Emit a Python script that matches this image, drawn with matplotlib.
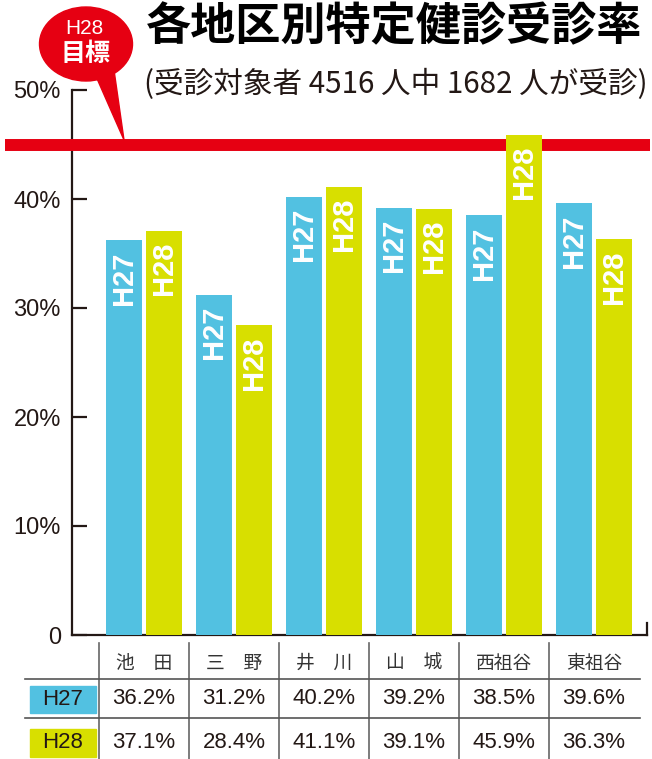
import numpy as np
import matplotlib
matplotlib.use("Agg")
import matplotlib.pyplot as plt
import matplotlib.transforms as mtransforms
from matplotlib.patches import Ellipse, Polygon, Rectangle
from matplotlib.lines import Line2D

# data
areas = ["池　田", "三　野", "井　川", "山　城", "西祖谷", "東祖谷"]
h27 = [36.2, 31.2, 40.2, 39.2, 38.5, 39.6]
h28 = [37.1, 28.4, 41.1, 39.1, 45.9, 36.3]
target = 45
yticks = [0, 10, 20, 30, 40, 50]
ytick_labels = ["0", "10%", "20%", "30%", "40%", "50%"]

title = "各地区別特定健診受診率"
subtitle = "(受診対象者 4516 人中 1682 人が受診)"

C27 = "#52C1E1"
C28 = "#D8DF00"
RED = "#E60012"
INK = "#231815"
JP = ["Noto Sans CJK JP", "DejaVu Sans"]

plt.rcParams["font.family"] = ["Liberation Sans", "Noto Sans CJK JP", "DejaVu Sans"]

W, H = 652, 759
fig = plt.figure(figsize=(W / 100, H / 100), dpi=100)


def fx(px):
    return px / W


def fy(py):
    return 1 - py / H


ax = fig.add_axes([fx(72), fy(635), (647 - 72) / W, (635 - 90) / H])

x = np.arange(len(areas))
off = 20 / 90
bw = 36 / 90
ax.bar(x - off, h27, bw, color=C27, zorder=4)
ax.bar(x + off, h28, bw, color=C28, zorder=4)
for xi, a, b in zip(x, h27, h28):
    for xx, v, lab in [(xi - off, a, "H27"), (xi + off, b, "H28")]:
        ax.annotate(lab, (xx, v), xytext=(0, -8), textcoords="offset points",
                    rotation=90, ha="center", va="top", color="white",
                    fontsize=21, fontweight="bold", zorder=5)

xmax = (647 - 144) / 90
ax.set_xlim(-0.8, xmax)
ax.set_ylim(0, 50)
for s in ["top", "right"]:
    ax.spines[s].set_visible(False)
for s in ["left", "bottom"]:
    ax.spines[s].set_linewidth(1.6)
    ax.spines[s].set_color(INK)
ax.set_xticks([])
ax.set_yticks(yticks)
ax.set_yticklabels(ytick_labels)
ax.tick_params(axis="y", direction="in", length=11, width=1.6, pad=8,
               labelsize=17, colors=INK)
ax.plot([xmax, xmax], [0, 1.1], color=INK, lw=1.6, clip_on=False)

# target line
ax.plot([-0.1165, 1.005], [target, target], transform=ax.get_yaxis_transform(),
        color=RED, lw=8.6, solid_capstyle="butt", clip_on=False, zorder=3)

# speech bubble
fig.add_artist(Ellipse((fx(86), fy(44)), 93 / W, 74 / H,
                       transform=fig.transFigure, color=RED))
fig.add_artist(Polygon([(fx(95), fy(74)), (fx(114), fy(70)), (fx(124), fy(140))],
                       closed=True, transform=fig.transFigure, color=RED))
fig.text(fx(84), fy(28), "H28", color="white", fontsize=15, ha="center", va="center")
fig.text(fx(86), fy(54), "目標", color="white", fontsize=18, fontweight="bold",
         family=JP, ha="center", va="center")

# titles
fig.text(fx(394), fy(27), title, fontsize=32.5, fontweight="bold", family=JP,
         ha="center", va="center", color="black")
fig.text(fx(396), fy(84), subtitle, fontsize=21.3, family=JP,
         ha="center", va="center", color=INK)

# table under the chart
tb = mtransforms.blended_transform_factory(ax.transData, fig.transFigure)
for i in range(len(areas)):
    fig.add_artist(Line2D([i - 0.5, i - 0.5], [fy(643), 0], transform=tb,
                          color="#666", lw=1.2))
for yy in [679, 718]:
    fig.add_artist(Line2D([fx(25), fx(640)], [fy(yy), fy(yy)],
                          transform=fig.transFigure, color="#555", lw=1.2))
for xi, name, a, b in zip(x, areas, h27, h28):
    fig.text(xi, fy(663), name, transform=tb, family=JP, fontsize=13.5,
             ha="center", va="center", color="#333")
    fig.text(xi, fy(699), f"{a:.1f}%", transform=tb, fontsize=16,
             ha="center", va="center", color=INK)
    fig.text(xi, fy(743), f"{b:.1f}%", transform=tb, fontsize=16,
             ha="center", va="center", color=INK)

fig.add_artist(Rectangle((fx(30), fy(713)), 66 / W, 27 / H,
                         transform=fig.transFigure, color=C27))
fig.add_artist(Rectangle((fx(30), fy(757)), 66 / W, 28 / H,
                         transform=fig.transFigure, color=C28))
fig.text(fx(63), fy(699.5), "H27", fontsize=16, ha="center", va="center", color=INK)
fig.text(fx(63), fy(743), "H28", fontsize=16, ha="center", va="center", color=INK)

fig.savefig("out.png", dpi=100)
